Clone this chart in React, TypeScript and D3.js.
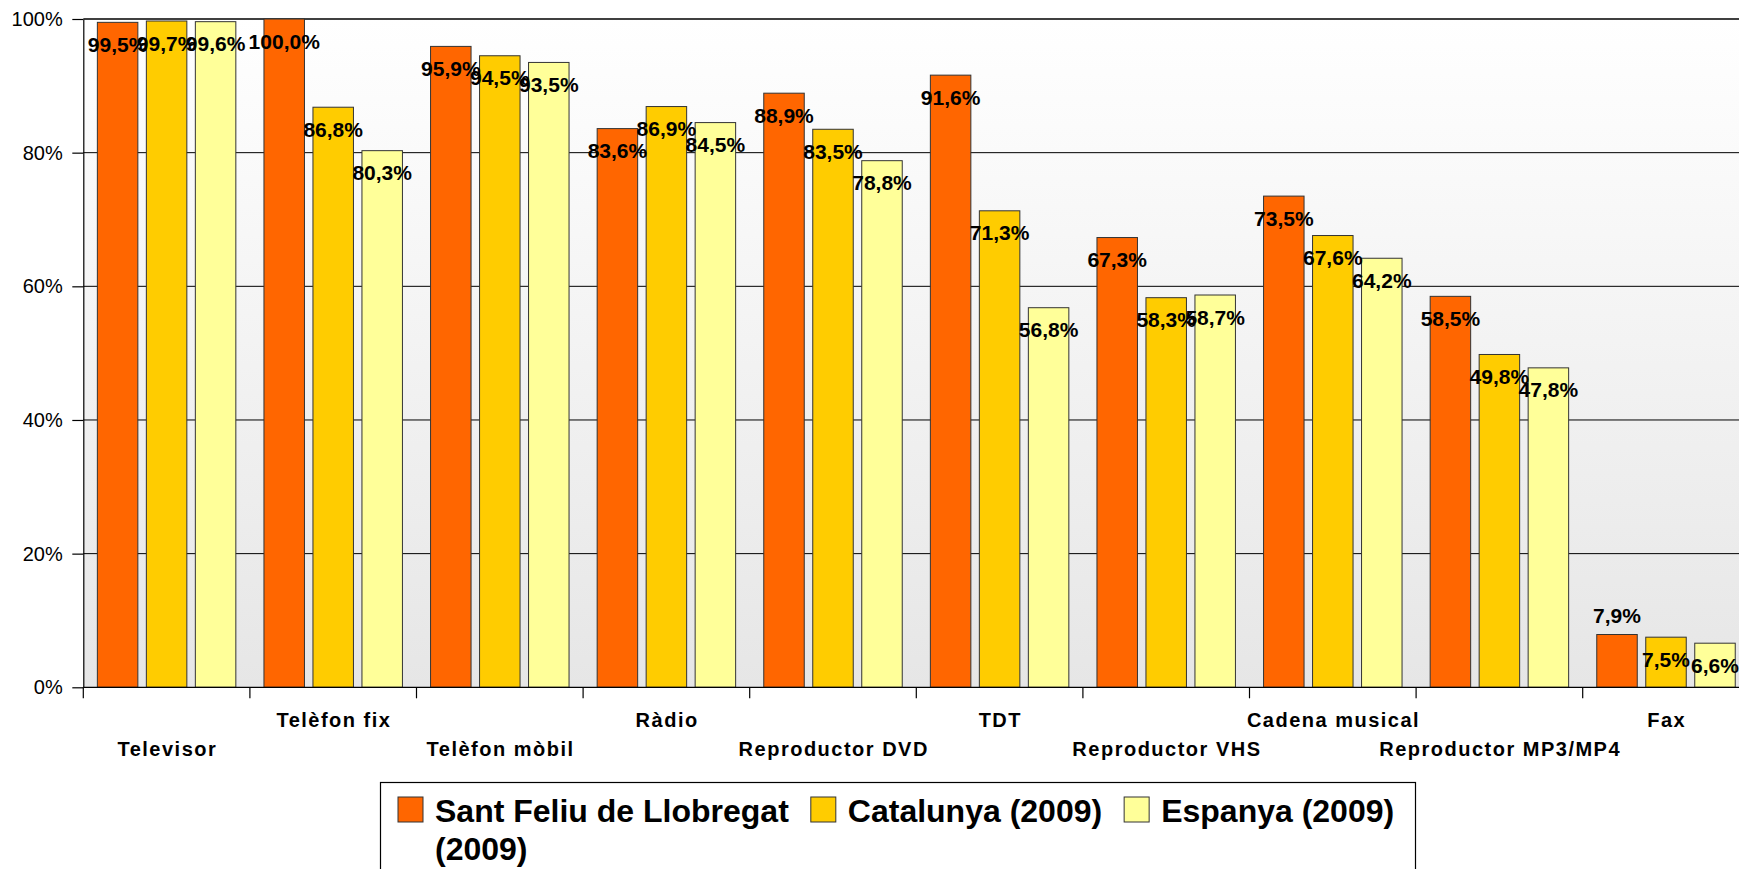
import { useEffect, useRef } from "react";
import * as d3 from "d3";

const categories = [
  "Televisor",
  "Telèfon fix",
  "Telèfon mòbil",
  "Ràdio",
  "Reproductor DVD",
  "TDT",
  "Reproductor VHS",
  "Cadena musical",
  "Reproductor MP3/MP4",
  "Fax",
];
const seriesNames = ["Sant Feliu de Llobregat (2009)", "Catalunya (2009)", "Espanya (2009)"];
const santFeliu = [99.5, 100.0, 95.9, 83.6, 88.9, 91.6, 67.3, 73.5, 58.5, 7.9];
const catalunya = [99.7, 86.8, 94.5, 86.9, 83.5, 71.3, 58.3, 67.6, 49.8, 7.5];
const espanya = [99.6, 80.3, 93.5, 84.5, 78.8, 56.8, 58.7, 64.2, 47.8, 6.6];
const yTicks = [0, 20, 40, 60, 80, 100];
const colors = ["#ff6600", "#ffcc00", "#ffff99"];

const FONT = "'Liberation Sans', Arial, sans-serif";

const App = () => {
  const svgRef = useRef<SVGSVGElement | null>(null);

  useEffect(() => {
    if (!svgRef.current) return;
    const svg = d3.select(svgRef.current);
    svg.selectAll("*").remove();

    const width = 1739;
    const height = 869;
    const left = 83.3;
    const top = 19;
    const bottom = 687.3;
    const step = 166.6;

    const series = [santFeliu, catalunya, espanya];

    const x = d3.scaleBand<string>()
      .domain(categories)
      .range([left, left + step * categories.length])
      .padding(0);

    const xs = d3.scaleBand<number>()
      .domain([0, 1, 2])
      .range([0, x.bandwidth()])
      .paddingInner(0.1735)
      .paddingOuter(0.287);

    const y = d3.scaleLinear().domain([0, 100]).range([bottom, top]);

    const right = x.range()[1];

    // plot background: white to light grey
    const grad = svg.append("defs").append("linearGradient")
      .attr("id", "bg")
      .attr("x1", 0).attr("y1", 0).attr("x2", 0).attr("y2", 1);
    grad.append("stop").attr("offset", "0%").attr("stop-color", "#ffffff");
    grad.append("stop").attr("offset", "100%").attr("stop-color", "#e6e6e6");

    svg.append("rect")
      .attr("x", left).attr("y", top)
      .attr("width", right - left).attr("height", bottom - top)
      .attr("fill", "url(#bg)");

    // gridlines
    svg.append("g")
      .selectAll("line")
      .data(yTicks.filter(d => d > 0))
      .join("line")
      .attr("x1", left).attr("x2", right)
      .attr("y1", d => y(d)).attr("y2", d => y(d))
      .attr("stroke", "#000")
      .attr("stroke-width", d => (d === 100 ? 1.6 : 1));

    // bars
    const groups = svg.append("g")
      .selectAll("g")
      .data(categories)
      .join("g")
      .attr("transform", d => `translate(${x(d)},0)`);

    groups.selectAll("rect")
      .data((_, i) => series.map((s, k) => ({ k, v: s[i] })))
      .join("rect")
      .attr("x", d => xs(d.k)!)
      .attr("y", d => y(d.v))
      .attr("width", xs.bandwidth())
      .attr("height", d => bottom - y(d.v))
      .attr("fill", d => colors[d.k])
      .attr("stroke", "#333")
      .attr("stroke-width", 1);

    // data labels
    const fmt = (v: number) => v.toFixed(1).replace(".", ",") + "%";
    const placeAbove = (k: number, v: number) => k === 0 && v < 10;

    groups.selectAll("text")
      .data((_, i) => series.map((s, k) => ({ k, v: s[i] })))
      .join("text")
      .attr("x", d => xs(d.k)! + xs.bandwidth() / 2)
      .attr("y", d => (placeAbove(d.k, d.v) ? y(d.v) - 12 : y(d.v) + 29.5))
      .attr("text-anchor", "middle")
      .attr("font-family", FONT)
      .attr("font-weight", "bold")
      .attr("font-size", 21)
      .attr("fill", "#000")
      .text(d => fmt(d.v));

    // y axis
    const yAxis = svg.append("g")
      .attr("transform", `translate(${left},0)`)
      .call(d3.axisLeft(y)
        .tickValues(yTicks)
        .tickSize(11)
        .tickSizeOuter(0)
        .tickPadding(9.6)
        .tickFormat(d => `${d}%`));
    yAxis.select(".domain").attr("stroke", "#000").attr("stroke-width", 1.2);
    yAxis.selectAll(".tick line").attr("stroke", "#000").attr("stroke-width", 1.2);
    yAxis.selectAll(".tick text")
      .attr("font-family", FONT)
      .attr("font-size", 20)
      .attr("fill", "#000");

    // x axis line and boundary ticks
    svg.append("line")
      .attr("x1", left).attr("x2", right)
      .attr("y1", bottom).attr("y2", bottom)
      .attr("stroke", "#000").attr("stroke-width", 1.2);

    svg.append("g")
      .selectAll("line")
      .data(d3.range(categories.length + 1))
      .join("line")
      .attr("x1", i => left + i * x.step())
      .attr("x2", i => left + i * x.step())
      .attr("y1", bottom).attr("y2", bottom + 11)
      .attr("stroke", "#000").attr("stroke-width", 1.2);

    // category labels, staggered on two rows
    svg.append("g")
      .selectAll("text")
      .data(categories)
      .join("text")
      .attr("x", d => x(d)! + x.bandwidth() / 2 + 0.75)
      .attr("y", (_, i) => (i % 2 === 1 ? 727 : 756))
      .attr("text-anchor", "middle")
      .attr("font-family", FONT)
      .attr("font-weight", "bold")
      .attr("font-size", 20)
      .attr("letter-spacing", 1.5)
      .attr("fill", "#000")
      .text(d => d);

    // legend
    const legend = svg.append("g");
    legend.append("rect")
      .attr("x", 380.5).attr("y", 782.5)
      .attr("width", 1035).attr("height", 140)
      .attr("fill", "#fff")
      .attr("stroke", "#000").attr("stroke-width", 1.2);

    const maxTextWidth = 370;
    let cx = 398;
    seriesNames.forEach((name, k) => {
      legend.append("rect")
        .attr("x", cx).attr("y", 797)
        .attr("width", 25).attr("height", 25)
        .attr("fill", colors[k])
        .attr("stroke", "#333").attr("stroke-width", 1);

      const t = legend.append("text")
        .attr("x", cx + 37).attr("y", 822)
        .attr("font-family", FONT)
        .attr("font-weight", "bold")
        .attr("font-size", 32)
        .attr("fill", "#000");

      // simple word wrap
      const words = name.split(" ");
      let line: string[] = [];
      let tspan = t.append("tspan").attr("x", cx + 37).attr("dy", 0);
      let widest = 0;
      words.forEach(w => {
        line.push(w);
        tspan.text(line.join(" "));
        if ((tspan.node() as SVGTSpanElement).getComputedTextLength() > maxTextWidth && line.length > 1) {
          line.pop();
          tspan.text(line.join(" "));
          widest = Math.max(widest, (tspan.node() as SVGTSpanElement).getComputedTextLength());
          line = [w];
          tspan = t.append("tspan").attr("x", cx + 37).attr("dy", 38).text(w);
        }
      });
      widest = Math.max(widest, (tspan.node() as SVGTSpanElement).getComputedTextLength());
      cx = cx + 37 + widest + 22;
    });

    svg.attr("width", width).attr("height", height);
  }, []);

  return (
    <>
      <style>{`body{margin:0;overflow:hidden}`}</style>
      <svg ref={svgRef} width={1739} height={869} style={{ display: "block" }}></svg>
    </>
  );
};

export default App;
